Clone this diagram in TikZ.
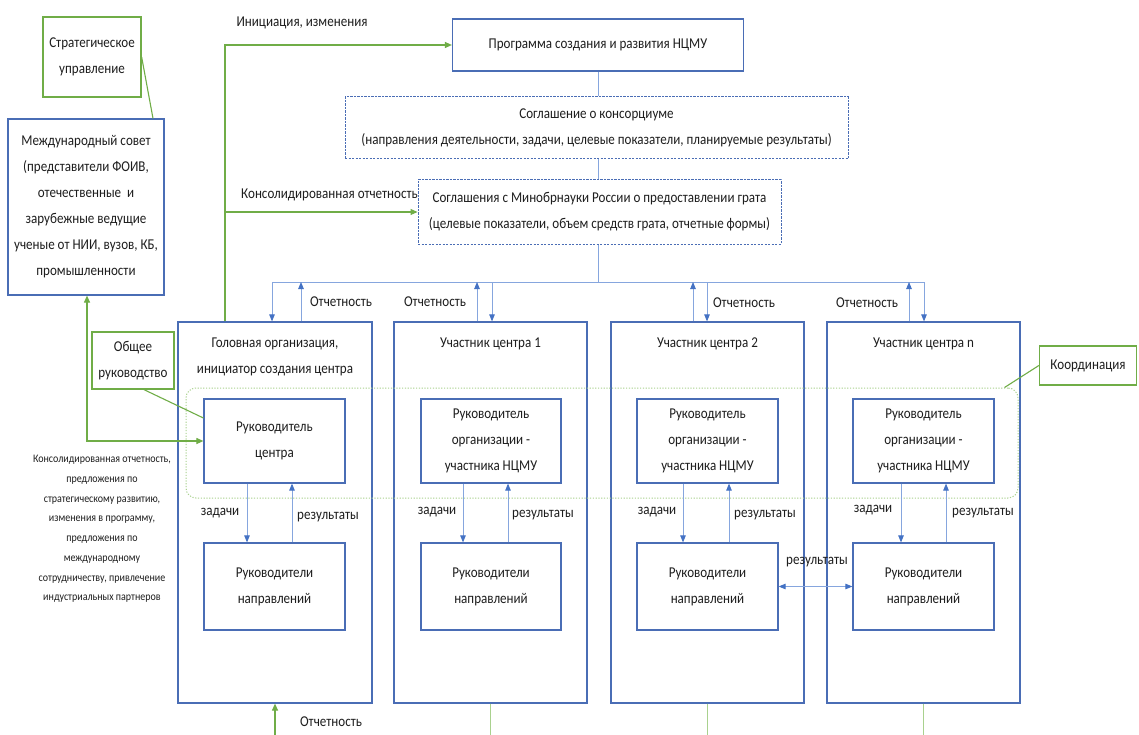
\documentclass[tikz,border=0pt]{standalone}
\usepackage{fontspec}
\setmainfont{Carlito}[FakeStretch=0.87]
\usetikzlibrary{arrows.meta,calc}
\definecolor{bx}{HTML}{4A6DB5}
\definecolor{ln}{HTML}{86A6DE}
\definecolor{ah}{HTML}{4472C4}
\definecolor{gr}{HTML}{70AD47}
\definecolor{grl}{HTML}{A9D18E}
\definecolor{tx}{HTML}{1E1E1E}
\begin{document}
\begin{tikzpicture}[x=1pt,y=-1pt,
  txt/.style={font=\fontsize{15}{26}\selectfont, text=tx, align=center, inner sep=0pt},
  small/.style={font=\fontsize{11.5}{19.7}\selectfont, text=tx, align=center, inner sep=0pt},
  bbox/.style 2 args={txt, draw=bx, line width=1.2pt, minimum width=#1, minimum height=#2},
  dbox/.style 2 args={txt, draw=bx, line width=1pt, dash pattern=on 2.2pt off 1.3pt, minimum width=#1, minimum height=#2},
  gbox/.style 2 args={txt, draw=gr, line width=1.3pt, minimum width=#1, minimum height=#2},
  bl/.style={draw=ln, line width=0.9pt},
  bla/.style={bl, -{Triangle[length=7pt,width=5.5pt,color=ah]}},
  gl/.style={draw=gr, line width=1.1pt},
  gla/.style={gl, -{Triangle[length=7pt,width=6pt]}},
  glaa/.style={gl, {Triangle[length=7pt,width=6pt]}-{Triangle[length=7pt,width=6pt]}},
  blaa/.style={bl, {Triangle[length=7pt,width=5.5pt,color=ah]}-{Triangle[length=7pt,width=5.5pt,color=ah]}}
]
\useasboundingbox[fill=white] (0,0) rectangle (1139,735);

% left side
\node[gbox={98pt}{80pt}] (strat) at (92,57) {Стратегическое\\управление};
\node[bbox={156pt}{176pt}] (council) at (86,207) {Международный совет\\(представители ФОИВ,\\отечественные~ и\\зарубежные ведущие\\ученые от НИИ, вузов, КБ,\\промышленности};
\node[gbox={82pt}{57pt}] (general) at (133,360.5) {Общее\\руководство};
\node[small] (consol) at (102,529) {Консолидированная отчетность,\\предложения по\\стратегическому развитию,\\изменения в программу,\\предложения по\\международному\\сотрудничеству, привлечение\\индустриальных партнеров};

% top boxes
\node[bbox={291pt}{52pt}] (prog) at (598,45) {Программа создания и развития НЦМУ};
\node[dbox={503pt}{62pt}] (cons) at (596.5,128) {Соглашение о консорциуме\\(направления деятельности, задачи, целевые показатели, планируемые результаты)};
\node[dbox={363pt}{64pt}] (agr) at (599.5,212) {Соглашения с Минобрнауки России о предоставлении грата\\(целевые показатели, объем средств грата, отчетные формы)};

% organisation boxes
\node[bbox={194pt}{381pt}] (head) at (275,512.5) {};
\node[bbox={193pt}{381pt}] (p1) at (490.5,512.5) {};
\node[bbox={193pt}{381pt}] (p2) at (707.5,512.5) {};
\node[bbox={193pt}{381pt}] (pn) at (923.5,512.5) {};
\node[txt] (thead) at (275,357) {Головная организация,\\инициатор создания центра};
\node[txt] (tp1) at (490.5,344) {Участник центра 1};
\node[txt] (tp2) at (707.5,344) {Участник центра 2};
\node[txt] (tpn) at (923.5,344) {Участник центра n};

% coordination
\node[draw=grl, line width=1pt, dash pattern=on 1.2pt off 1.6pt, rounded corners=10pt, minimum width=832pt, minimum height=110pt, inner sep=0pt] (coord) at (602,443) {};
\node[gbox={97pt}{39pt}] (coordl) at (1088,365.5) {Координация};

% inner boxes
\node[bbox={141pt}{84pt}] (rch) at (274.5,441) {Руководитель\\центра};
\node[bbox={140pt}{84pt}] (rc1) at (491,441) {Руководитель\\организации -\\участника НЦМУ};
\node[bbox={141pt}{84pt}] (rc2) at (707.5,441) {Руководитель\\организации -\\участника НЦМУ};
\node[bbox={141pt}{84pt}] (rcn) at (923.5,441) {Руководитель\\организации -\\участника НЦМУ};
\node[bbox={141pt}{87pt}] (rdh) at (274.5,586.5) {Руководители\\направлений};
\node[bbox={140pt}{87pt}] (rd1) at (491,586.5) {Руководители\\направлений};
\node[bbox={141pt}{87pt}] (rd2) at (707.5,586.5) {Руководители\\направлений};
\node[bbox={141pt}{87pt}] (rdn) at (923.5,586.5) {Руководители\\направлений};

% green connectors left
\draw[gl] (strat.east) -- ([xshift=67pt]council.north);
\draw[glaa] ([xshift=1pt]council.south) |- (rch.west);
\draw[gl] ([xshift=11pt]general.south) -- ([yshift=23pt]rch.west);
\coordinate (gx) at ([xshift=-50pt]head.north);
\draw[gla] (gx) |- (prog.west);
\draw[gla] (gx |- agr.west) -- (agr.west);
\node[txt] (linit) at (302,23) {Инициация, изменения};
\node[txt] (lcons) at (329.5,195) {Консолидированная отчетность};
\draw[gl] (coordl.west) -- ([xshift=-14pt]coord.north east);

% blue top connectors
\draw[bl] (prog.south) -- (prog.south |- cons.north);
\draw[bl] (prog.south |- cons.south) -- (prog.south |- agr.north);
\coordinate (bL) at (272,282);
\coordinate (bR) at (924,282);
\draw[bl] (prog.south |- agr.south) -- (prog.south |- bL);
\draw[bl] (bL) -- (bR);
\coordinate (u0) at (301,282);
\coordinate (u1) at (477,282);
\coordinate (d1) at (492,282);
\coordinate (u2) at (693,282);
\coordinate (d2) at (707,282);
\coordinate (u3) at (909,282);
\draw[bla] (bL) -- (bL |- head.north);
\draw[bla] (u0 |- head.north) -- (u0);
\draw[bla] (u1 |- p1.north) -- (u1);
\draw[bla] (d1) -- (d1 |- p1.north);
\draw[bla] (u2 |- p2.north) -- (u2);
\draw[bla] (d2) -- (d2 |- p2.north);
\draw[bla] (u3 |- pn.north) -- (u3);
\draw[bla] (bR) -- (bR |- pn.north);
\node[txt] (o0) at (341,302) {Отчетность};
\node[txt] (o1) at (435,302) {Отчетность};
\node[txt] (o2) at (744,303) {Отчетность};
\node[txt] (o3) at (867,303) {Отчетность};

% tasks / results inside
\draw[bla] ([xshift=-27.5pt]rch.south) -- ([xshift=-27.5pt]rdh.north);
\draw[bla] ([xshift=17.5pt]rdh.north) -- ([xshift=17.5pt]rch.south);
\draw[bla] ([xshift=-28pt]rc1.south) -- ([xshift=-28pt]rd1.north);
\draw[bla] ([xshift=17pt]rd1.north) -- ([xshift=17pt]rc1.south);
\draw[bla] ([xshift=-24.5pt]rc2.south) -- ([xshift=-24.5pt]rd2.north);
\draw[bla] ([xshift=21.5pt]rd2.north) -- ([xshift=21.5pt]rc2.south);
\draw[bla] ([xshift=-22.5pt]rcn.south) -- ([xshift=-22.5pt]rdn.north);
\draw[bla] ([xshift=22.5pt]rdn.north) -- ([xshift=22.5pt]rcn.south);
\node[txt] (z0) at (220,513) {задачи};
\node[txt] (r0) at (328,517) {результаты};
\node[txt] (z1) at (437,512) {задачи};
\node[txt] (r1) at (543,515) {результаты};
\node[txt] (z2) at (657,512) {задачи};
\node[txt] (r2) at (765,515) {результаты};
\node[txt] (z3) at (873,510) {задачи};
\node[txt] (r3) at (983,513) {результаты};
\draw[blaa] (rd2.east) -- (rdn.west);
\node[txt] (r23) at (817,562) {результаты};

% bottom
\coordinate (bot0) at (275,735);
\draw[gla] (bot0) -- (head.south);
\node[txt] (ob) at (331,722) {Отчетность};
\draw[gl, line width=0.6pt, draw=grl] (p1.south) -- (p1.south |- bot0);
\draw[gl, line width=0.6pt, draw=grl] (p2.south) -- (p2.south |- bot0);
\draw[gl, line width=0.6pt, draw=grl] (pn.south) -- (pn.south |- bot0);
\end{tikzpicture}
\end{document}
